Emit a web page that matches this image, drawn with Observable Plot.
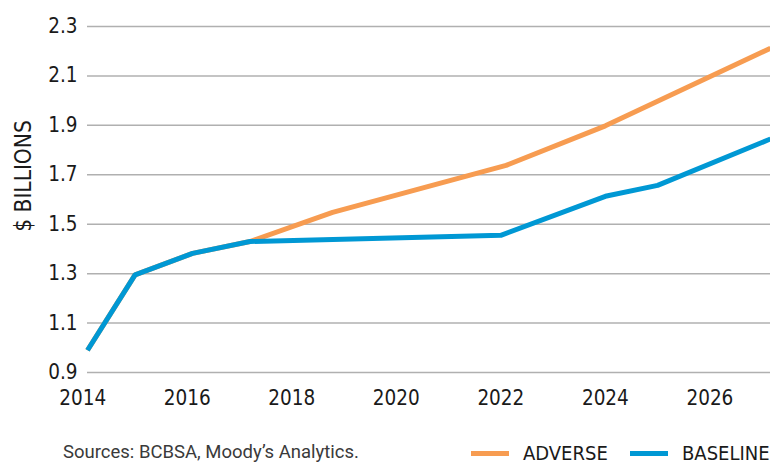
<!DOCTYPE html>
<html><head><meta charset="utf-8">
<script src="https://cdn.jsdelivr.net/npm/d3@7"></script>
<script src="https://cdn.jsdelivr.net/npm/@observablehq/plot@0.6"></script>
<style>
body{margin:0;background:#fff;}
#wrap{position:relative;width:770px;height:465px;overflow:hidden;}
.cond{font-family:"Liberation Sans Narrow","DejaVu Sans Condensed",sans-serif;}
#ytitle{position:absolute;left:23px;top:176px;transform:translate(-50%,-50%) rotate(-90deg);font-size:22.5px;color:#1a1a1a;white-space:nowrap;}
#src{position:absolute;left:63px;top:441px;font-family:Roboto,"Liberation Sans",sans-serif;font-size:18.5px;color:#3a3a3a;white-space:nowrap;}
.item{position:absolute;top:441px;display:flex;align-items:center;font-size:20px;color:#1a1a1a;white-space:nowrap;height:24px;}
.sw{display:inline-block;width:38px;height:5px;margin-right:14px;}
</style></head><body>
<div id="wrap">
<div id="chart"></div>
<div id="ytitle" class="cond">$ BILLIONS</div>
<div id="src">Sources: BCBSA, Moody’s Analytics.</div>
<div id="legend" class="cond"></div>
</div>
<script>
// Data
const baselineYears  = [2014.09, 2015, 2016.1, 2017.2, 2022.0, 2024.0, 2025.0, 2027.16];
const baselineValues = [0.99, 1.295, 1.382, 1.43, 1.455, 1.613, 1.657, 1.845];
const adverseYears   = [2014.09, 2015, 2016.1, 2017.2, 2018.78, 2022.1, 2024.0, 2027.16];
const adverseValues  = [0.99, 1.295, 1.382, 1.43, 1.548, 1.738, 1.898, 2.212];
const yTicks = [0.9, 1.1, 1.3, 1.5, 1.7, 1.9, 2.1, 2.3];
const xTicks = [2014, 2016, 2018, 2020, 2022, 2024, 2026];
const seriesNames = ["ADVERSE", "BASELINE"];
const seriesColors = ["#f79c51", "#0098d4"];
const legendLeft = [471, 630];

const adverse = adverseYears.map((x, i) => ({x, y: adverseValues[i], s: seriesNames[0]}));
const baseline = baselineYears.map((x, i) => ({x, y: baselineValues[i], s: seriesNames[1]}));

const fontCond = '"Liberation Sans Narrow","DejaVu Sans Condensed",sans-serif';

const chart = Plot.plot({
  width: 770,
  height: 420,
  marginLeft: 87,
  marginRight: 0,
  marginTop: 26,
  marginBottom: 48,
  style: {fontFamily: fontCond, fontSize: "20.5px", color: "#1a1a1a", background: "#fff", overflow: "visible"},
  x: {domain: [2014.09, 2027.16]},
  y: {domain: [0.9, 2.3]},
  color: {domain: seriesNames, range: seriesColors},
  marks: [
    Plot.gridY(yTicks, {stroke: "#b0b0b0", strokeOpacity: 1, strokeWidth: 1.5}),
    Plot.axisY(yTicks, {tickSize: 0, tickPadding: 10, tickFormat: d3.format(".1f"), label: null}),
    Plot.axisX(xTicks, {tickSize: 0, tickPadding: 18, tickFormat: d => String(d), label: null}),
    Plot.line(adverse, {x: "x", y: "y", stroke: "s", strokeWidth: 5, strokeLinecap: "butt", strokeLinejoin: "round"}),
    Plot.line(baseline, {x: "x", y: "y", stroke: "s", strokeWidth: 5, strokeLinecap: "butt", strokeLinejoin: "round"})
  ]
});
document.getElementById("chart").appendChild(chart);

const legend = document.getElementById("legend");
seriesNames.forEach((n, i) => {
  const item = document.createElement("div");
  item.className = "item";
  item.style.left = legendLeft[i] + "px";
  const sw = document.createElement("span");
  sw.className = "sw";
  sw.style.background = seriesColors[i];
  const lab = document.createElement("span");
  lab.textContent = n;
  item.appendChild(sw);
  item.appendChild(lab);
  legend.appendChild(item);
});
</script>
</body></html>
